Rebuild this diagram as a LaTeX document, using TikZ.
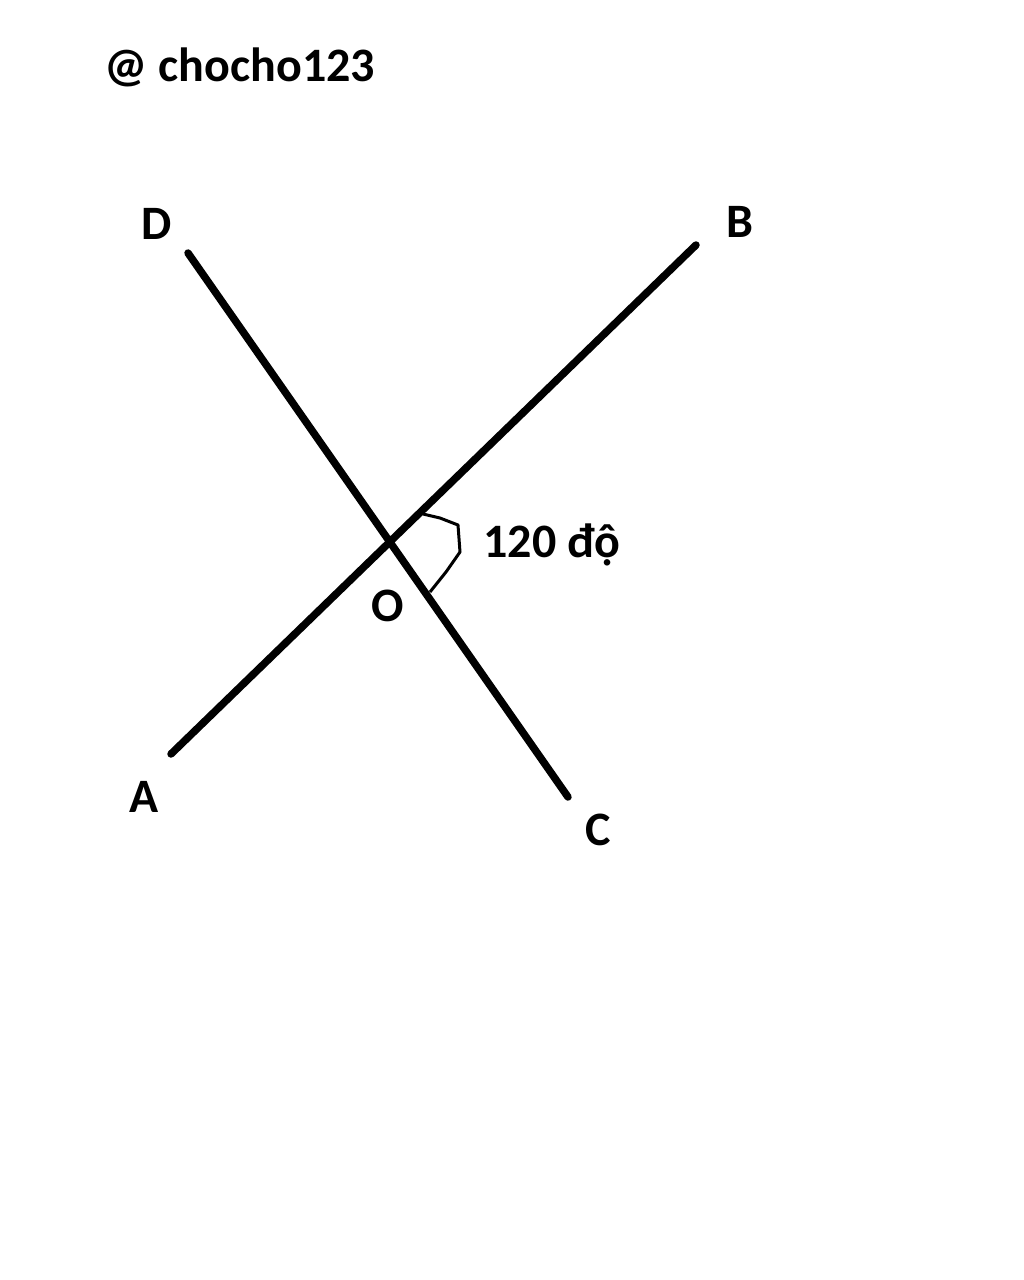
\documentclass[tikz,border=0pt]{standalone}
\usepackage{fontspec}
\setmainfont{Carlito}
\begin{document}
\begin{tikzpicture}[x=1pt,y=-1pt,
  seg/.style={line width=7.5pt,line cap=round},
  lbl/.style={font=\fontsize{48}{54}\selectfont\bfseries,inner sep=0pt}]
\useasboundingbox[fill=white] (0,0) rectangle (1024,1280);
\node[lbl] (title) at (240,67) {@ chocho123};
\coordinate (D) at (188,253);
\coordinate (C) at (568,797);
\coordinate (A) at (171,754);
\coordinate (B) at (696,245);
\draw[seg] (D) -- (C);
\draw[seg] (A) -- (B);
\coordinate (m1) at (423,514);
\coordinate (m2) at (430,592);
\draw[line width=3pt,line join=round] (m1) -- (440,518) -- (458,525) -- (460,552) -- (446,572) -- (m2);
\node[lbl] (lD) at (157,224) {D};
\node[lbl] (lB) at (740,222) {B};
\node[lbl] (lA) at (144,797) {A};
\node[lbl] (lC) at (598,830) {C};
\node[lbl] (lO) at (388,606) {O};
\node[lbl] (ang) at (552,545) {120 độ};
\end{tikzpicture}
\end{document}
